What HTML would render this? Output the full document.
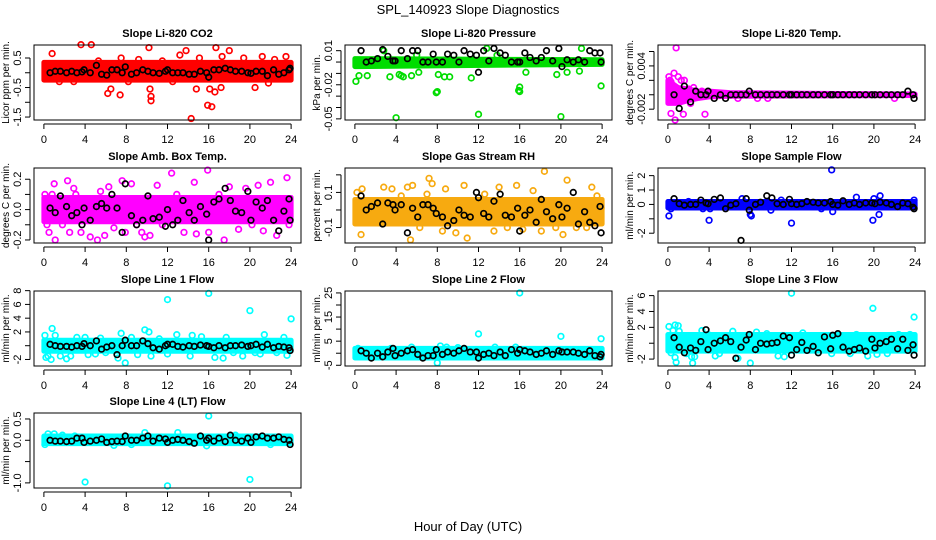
<!DOCTYPE html>
<html><head><meta charset="utf-8"><style>
html,body{margin:0;padding:0;background:#fff;}
svg{display:block;font-family:"Liberation Sans",sans-serif;}
</style></head><body>
<svg id="chart" width="936" height="540" viewBox="0 0 936 540">
<rect width="936" height="540" fill="#fff"/>
<text x="468" y="14" text-anchor="middle" font-size="13">SPL_140923  Slope Diagnostics</text>
<text x="468" y="531" text-anchor="middle" font-size="13">Hour of Day (UTC)</text>
</svg>
<script>
// ---------- shared data ----------
const xTicks = [0,4,8,12,16,20,24];
const blackHours = [0.6,1.1,1.6,2.2,2.7,3.2,3.7,3.9,4.5,5.1,5.6,6.1,6.6,7.1,7.6,7.9,8.5,9.0,9.6,10.1,10.6,11.2,11.8,12.0,12.5,13.0,13.5,14.1,14.6,15.2,15.8,16.0,16.5,17.0,17.6,18.1,18.6,19.2,19.8,20.1,20.6,21.2,21.7,22.3,22.8,23.3,23.8,23.9];

// Panel 1: Li-820 CO2
const p1Ticks = [0.5,0,-0.5,-1,-1.5];
const p1Labels = ["0.5","","-0.5","","-1.5"];
const p1BandHours = [0,24]; const p1BandLo = [-0.25,-0.25]; const p1BandHi = [0.35,0.35];
const p1Hours = [0.8,3.6,4.6,5.3,6.2,6.5,7.4,7.5,9.2,10.2,10.3,10.4,10.4,11.5,13.2,13.8,14.3,14.8,15.1,15.9,16.3,16.1,16.7,16.6,17.2,17.3,18.0,19.4,20.5,21.2,22.4,23.5,1.5,2.9,8.2,12.5,21.8,23.6];
const p1Values = [0.65,0.95,0.95,0.4,-0.7,-0.55,-0.75,0.5,0.45,0.85,-0.55,-0.95,-0.8,0.4,0.6,0.75,-1.55,-0.55,0.5,-1.1,-1.15,-0.55,0.85,-0.65,-0.5,0.55,0.75,0.5,-0.5,0.55,0.45,0.55,-0.3,-0.3,-0.3,-0.3,-0.35,-0.2];
const p1Black = [0,0.05,0.05,0,0.05,0,0.03,0.1,0,0.25,-0.05,-0.08,0.1,0.1,0,0.2,-0.05,0,0.1,0.05,0,-0.02,0.05,0.1,0,0,0,-0.05,-0.05,0.05,0,-0.15,0.1,0.1,0.15,0.1,0.05,0.05,0,-0.02,0.05,0.05,-0.1,0.1,-0.05,0,0.1,0.15];

// Panel 2: Li-820 Pressure
const p2Ticks = [0.01,0,-0.01,-0.02,-0.03,-0.04,-0.05];
const p2Labels = ["0.01","","","-0.02","","","-0.05"];
const p2BandHours = [0,24]; const p2BandLo = [-0.004,-0.002]; const p2BandHi = [0.003,0.002];
const p2Hours = [0.1,0.4,1.2,3.4,4.3,4.5,4.7,5.5,6.2,7.9,8.0,8.1,8.7,9.2,4.0,12.0,20.0,16.0,15.9,16.0,23.9,11.3,16.6,19.6,20.6,21.8,12.8,22.0,2.8,6.0,13.8];
const p2Values = [-0.017,-0.012,-0.012,-0.013,-0.011,-0.012,-0.013,-0.012,-0.009,-0.027,-0.026,-0.011,-0.013,-0.013,-0.049,-0.046,-0.048,-0.022,-0.025,-0.026,-0.021,-0.014,-0.009,-0.011,-0.009,-0.008,0.012,0.012,0.01,0.006,0.006];
const p2Black = [0.01,0,0.001,0.003,0.011,0.005,0.001,0.001,0.01,0.003,0.01,0.01,0,0,0.007,0,0,0.007,0.006,0,0.01,0.007,0.006,-0.009,0.01,0.001,0.012,0.008,0.006,0,0,0,0.008,0.004,0.001,0.004,0.01,0.001,0.012,-0.004,0.002,0,0.002,0,0.01,0.008,0.008,0];

// Panel 3: Li-820 Temp.
const p3Ticks = [0.006,0.004,0.002,0,-0.002];
const p3Labels = ["","0.004","","","-0.002"];
const p3BandHours = [0,1,2,3,4,6,24]; const p3BandLo = [-0.0012,-0.0012,-0.0008,-0.0005,-0.0003,-0.0002,-0.0001]; const p3BandHi = [0.002,0.001,0.0008,0.0005,0.0005,0.0003,0.0001];
const p3Hours = [0.1,0.2,0.3,0.3,0.6,0.8,0.7,1.0,1.3,1.6,1.5,2.0,2.2,3.6,3.3,6.8,9.7,8.7,22,2.5];
const p3Values = [0.0025,0.002,0.0018,-0.0026,0.003,0.0065,-0.0035,0.0025,0.002,0.002,-0.0027,0.0008,-0.0012,-0.0027,0.0005,-0.0005,-0.0005,-0.0005,-0.0005,0.001];
const p3Black = [0,-0.0019,0.0012,-0.001,0.0005,0,0,0.0005,-0.0005,0,-0.0005,0,0,0,0,0.0005,0,0,0,0,0,0,0,0,0,0,0,0,0,0,0,0,0,0,0,0,0,0,0,0,0,0,0,0,0,0.0005,0,-0.0005];

// Panel 4: Amb. Box Temp.
const p4Ticks = [0.2,0.1,0,-0.1,-0.2];
const p4Labels = ["0.2","","0.0","","-0.2"];
const p4BandHours = [0,24]; const p4BandLo = [-0.08,-0.08]; const p4BandHi = [0.08,0.08];
const p4Hours = [0.1,0.3,0.5,0.8,1.0,1.1,2.3,2.5,2.9,3.6,4.5,5.2,5.9,6.3,6.8,7.6,7.9,8.5,9.5,9.8,10.3,11.0,12.4,13.6,14.6,14.8,15.9,16.0,17.5,18.0,18.9,19.6,20.8,21.3,22.0,22.6,23.6,23.8,3.1,12.9,17.0,5.5,9.0,20.2,1.8,11.5];
const p4Values = [0.1,-0.1,-0.15,0.1,0.17,-0.2,0.19,-0.15,0.14,-0.15,-0.18,-0.2,-0.17,0.15,-0.12,0.19,-0.15,0.17,-0.15,-0.18,-0.17,0.16,0.24,-0.15,0.18,-0.16,0.26,-0.15,-0.2,0.15,-0.13,0.14,0.16,-0.14,0.18,-0.17,0.21,-0.1,0.1,0.1,0.1,0.12,-0.1,-0.1,-0.1,-0.1];
const p4Black = [0.01,-0.02,0.09,0.02,-0.04,-0.02,-0.1,0.01,-0.07,0.02,0.04,0.01,0.1,0.01,-0.15,0.17,-0.04,-0.1,-0.07,0.09,-0.06,-0.05,-0.11,0,-0.1,-0.07,0.06,-0.02,-0.07,0.02,-0.03,-0.2,0.05,0.07,0.14,0.06,-0.01,-0.02,0.12,-0.07,0.05,0.01,0.06,-0.07,-0.14,-0.01,0.07,-0.07];

// Panel 5: Gas Stream RH
const p5Ticks = [0.2,0.1,0,-0.1];
const p5Labels = ["","0.1","","-0.1"];
const p5BandHours = [0,24]; const p5BandLo = [-0.08,-0.08]; const p5BandHi = [0.06,0.06];
const p5Hours = [0.2,0.7,0.6,1.3,2.8,3.1,3.6,4.5,5.1,5.4,5.6,6.3,7.0,7.2,7.5,8.5,8.8,9.8,10.6,10.9,11.5,12.6,13.5,14.0,14.8,15.7,16.3,17.3,18.4,18.1,19.5,20.2,20.6,21.5,22.5,23.0,23.5,23.9];
const p5Values = [0.1,0.12,-0.14,-0.06,0.13,-0.04,0.12,0.08,0.13,-0.17,0.14,-0.1,0.09,0.18,0.15,-0.12,0.12,-0.13,0.14,-0.16,-0.05,0.09,-0.12,0.13,-0.1,0.14,-0.11,0.11,0.22,-0.12,-0.1,-0.14,0.17,-0.1,-0.1,0.13,0.08,0.01];
const p5Black = [0.08,0,0.02,0.04,-0.08,0.04,0.03,0,0.03,-0.13,0.01,-0.04,0.03,0.03,0.01,-0.02,-0.04,-0.09,-0.06,0,-0.03,-0.04,0.1,0.07,-0.02,-0.04,0.05,0.09,-0.03,-0.04,0.01,-0.12,-0.03,0,-0.07,0.06,-0.01,-0.05,0.03,-0.04,0.01,0.1,-0.08,-0.01,-0.07,-0.09,0.02,-0.13];

// Panel 6: Sample Flow
const p6Ticks = [2,1,0,-1,-2];
const p6Labels = ["2","1","0","","-2"];
const p6BandHours = [0,24]; const p6BandLo = [-0.25,-0.25]; const p6BandHi = [0.2,0.2];
const p6Hours = [0.1,0.3,3.4,4.0,4.1,7.2,8.0,8.1,10.0,12.0,15.9,16.0,18.3,19.9,20.0,20.6,20.5,23.9,14.9,2.0,11.0];
const p6Values = [-0.8,-0.3,-0.3,-1.1,-0.3,0.4,-0.7,-0.8,-0.4,-1.3,2.4,-0.5,0.5,-1.1,0.4,0.6,-0.7,0.3,-0.3,0.2,0.3];
const p6Black = [0.4,0.05,-0.05,0,0,0.3,0.1,0.05,0.35,0.45,-0.3,-0.05,0.05,-2.5,0.4,-0.4,0,0.15,0.6,0.45,0.05,0,0.35,0.05,0,0.05,0.2,0.15,0.1,0.1,0.2,0,-0.05,0.25,0,0.1,0,0.1,0.1,0.05,0.15,0.1,0,-0.15,0.1,0.05,-0.2,-0.3];

// Panel 7: Line 1 Flow
const p7Ticks = [8,6,4,2,0,-2];
const p7Labels = ["8","6","4","2","","-2"];
const p7BandHours = [0,24]; const p7BandLo = [-0.8,-0.8]; const p7BandHi = [0.8,0.8];
const p7Hours = [0.1,0.2,0.4,0.8,0.7,1.1,1.6,2.2,2.6,3.2,4.0,4.3,5.5,6.0,7.2,7.5,7.9,8.5,9.1,9.8,10.2,10.4,12.0,12.0,12.9,14.2,14.4,16.0,16.6,17.4,17.7,19.3,20.0,20.5,21.4,22.6,23.3,23.6,24.0,15.3,5.0,11.2,18.4,21.0];
const p7Values = [1.5,-1.7,-1.5,2.5,-2,1.5,-1.5,-1.9,-1.5,1.2,1.2,-1.3,1.1,-1.0,-1.8,1.8,-2.5,1.2,-1.3,2.3,2.0,-1.5,6.7,-1.2,1.6,-1.5,1.5,7.6,-1.7,-1.8,1.2,-1.5,5.1,-1,1.6,-1,1.2,-1.4,3.9,1.3,-1.2,1.0,-1.0,-1.2];
const p7Black = [0.2,0,-0.1,-0.1,-0.2,0,-0.1,0.3,0,0.7,-0.5,-0.2,0,-1.3,0,0.8,0,0,0.7,0.3,-0.3,-0.5,0,0.2,0.2,-0.1,-0.2,0,-0.1,0.1,0,-0.1,-0.3,0,-0.3,0,0,0.1,-0.1,0,0.2,-0.2,0.2,-0.3,-0.1,-0.2,-0.3,-0.7];

// Panel 8: Line 2 Flow
const p8Ticks = [25,20,15,10,5,0,-5];
const p8Labels = ["25","","15","","5","","-5"];
const p8BandHours = [0,24]; const p8BandLo = [-2,-2]; const p8BandHi = [2,2];
const p8Hours = [0.2,0.3,2.5,3.5,5.5,8.0,8.3,8.9,11.4,12.0,13.6,15.6,16.0,17.5,20.0,21.5,23.9,23.5,10.0,6.6];
const p8Values = [-1.5,2,-1.5,2,2.5,-4,3,2.5,-1.5,8,2.5,2.5,25,-1.5,7,-1,6,-1.5,2.3,-1.5];
const p8Black = [1,0,-2,0,-1.5,0.5,2,-1,0,1,1.5,-0.5,-2,-1,-1,1.5,-0.5,0.5,0,1,2,0.5,0.5,-2,-0.5,0,-1,0.5,-1,1.5,0,1.5,1,0.5,-0.5,0,1,-0.5,1,0.5,0.5,0.5,0,-0.5,1,-1,-1.5,-0.5];

// Panel 9: Line 3 Flow
const p9Ticks = [6,4,2,0,-2];
const p9Labels = ["6","4","2","","-2"];
const p9BandHours = [0,24]; const p9BandLo = [-1.0,-1.0]; const p9BandHi = [1.1,1.1];
const p9Hours = [0.1,0.3,0.5,0.7,0.7,0.8,1.0,1.1,1.8,2.3,2.4,2.6,3.3,3.9,4.6,6.3,6.8,8.0,8.6,10.7,11.3,12.0,13.1,15.9,17.7,19.4,19.9,20.3,21.3,22.4,23.5,23.9,14.6,5.0,9.6,18.3];
const p9Values = [2.1,-1.2,1.6,2.3,-1.8,-2.4,2.2,1.5,-1.3,-1.7,-2.5,-1.7,1.6,1.1,-1.6,1.5,-1.9,-2.5,1.4,-1.6,-1.7,6.3,1.3,-1.3,-1.3,-1.6,4.4,-1.4,-1.3,1.1,1.1,3.3,-1.2,-1.3,1.2,1.1];
const p9Black = [0.7,-0.5,-1.2,-0.6,-0.9,0.2,1.7,-0.8,0,0.3,0.7,0.2,-1.9,-0.5,0.4,1.1,-0.8,0,-0.1,0,0.1,0.9,0.7,-1.5,-0.8,0.1,-0.9,-0.4,-1.2,0.8,-0.7,1,1.2,-0.5,-1,-0.8,-0.6,-1,0.5,-0.6,0,0.2,0.5,-0.7,0.5,-0.9,-0.2,-1.5];

// Panel 10: Line 4 (LT) Flow
const p10Ticks = [0.5,0,-0.5,-1];
const p10Labels = ["0.5","0.0","","-1.0"];
const p10BandHours = [0,24]; const p10BandLo = [-0.08,-0.08]; const p10BandHi = [0.1,0.1];
const p10Hours = [0.1,0.4,1.0,1.8,4.0,6.8,9.8,12.0,13.0,15.8,16.0,20.0,8.5,22,3.0,18.6];
const p10Values = [-0.1,0.15,0.15,0.12,-0.98,-0.12,0.18,-1.07,0.18,-0.13,0.57,-0.92,-0.1,-0.1,0.1,0.12];
const p10Black = [0,-0.02,-0.02,-0.03,-0.02,0.05,0.05,-0.05,-0.02,0,0.03,-0.05,-0.03,-0.02,-0.03,0.1,0,0,0.05,0.1,-0.02,0.05,0.03,-0.05,0,0.02,0,-0.03,-0.07,0.1,0,0.05,-0.02,0.05,-0.03,0.12,0,-0.02,0.05,-0.05,0.08,0.1,0.05,0.05,0.08,0.02,0,-0.1];

// ---------- layout (not data) ----------
const colLeft = [34,345,658];
const rowTop = [45,168,291,413];
const W = 267, H = 75;
const panels = [
 {name:"co2",title:"Slope Li-820 CO2",ylab:"Licor ppm per min.",col:"#ff0000",r:0,c:0,dom:[-1.6,0.94],ticks:p1Ticks,labels:p1Labels,bh:p1BandHours,bl:p1BandLo,bu:p1BandHi,hx:p1Hours,hy:p1Values,blk:p1Black},
 {name:"pressure",title:"Slope Li-820 Pressure",ylab:"kPa per min.",col:"#00dd00",r:0,c:1,dom:[-0.051,0.015],ticks:p2Ticks,labels:p2Labels,bh:p2BandHours,bl:p2BandLo,bu:p2BandHi,hx:p2Hours,hy:p2Values,blk:p2Black},
 {name:"temp",title:"Slope Li-820 Temp.",ylab:"degrees C per min.",col:"#ff00ff",r:0,c:2,dom:[-0.0035,0.0069],ticks:p3Ticks,labels:p3Labels,bh:p3BandHours,bl:p3BandLo,bu:p3BandHi,hx:p3Hours,hy:p3Values,blk:p3Black},
 {name:"amb-box-temp",title:"Slope Amb. Box Temp.",ylab:"degrees C per min.",col:"#ff00ff",r:1,c:0,dom:[-0.22,0.274],ticks:p4Ticks,labels:p4Labels,bh:p4BandHours,bl:p4BandLo,bu:p4BandHi,hx:p4Hours,hy:p4Values,blk:p4Black},
 {name:"gas-stream-rh",title:"Slope Gas Stream RH",ylab:"percent per min.",col:"#f7aa10",r:1,c:1,dom:[-0.188,0.239],ticks:p5Ticks,labels:p5Labels,bh:p5BandHours,bl:p5BandLo,bu:p5BandHi,hx:p5Hours,hy:p5Values,blk:p5Black},
 {name:"sample-flow",title:"Slope Sample Flow",ylab:"ml/min per min.",col:"#0000ff",r:1,c:2,dom:[-2.68,2.53],ticks:p6Ticks,labels:p6Labels,bh:p6BandHours,bl:p6BandLo,bu:p6BandHi,hx:p6Hours,hy:p6Values,blk:p6Black},
 {name:"line1-flow",title:"Slope Line 1 Flow",ylab:"ml/min per min.",col:"#00ffff",r:2,c:0,dom:[-2.95,7.95],ticks:p7Ticks,labels:p7Labels,bh:p7BandHours,bl:p7BandLo,bu:p7BandHi,hx:p7Hours,hy:p7Values,blk:p7Black},
 {name:"line2-flow",title:"Slope Line 2 Flow",ylab:"ml/min per min.",col:"#00ffff",r:2,c:1,dom:[-5.3,25.8],ticks:p8Ticks,labels:p8Labels,bh:p8BandHours,bl:p8BandLo,bu:p8BandHi,hx:p8Hours,hy:p8Values,blk:p8Black},
 {name:"line3-flow",title:"Slope Line 3 Flow",ylab:"ml/min per min.",col:"#00ffff",r:2,c:2,dom:[-2.87,6.58],ticks:p9Ticks,labels:p9Labels,bh:p9BandHours,bl:p9BandLo,bu:p9BandHi,hx:p9Hours,hy:p9Values,blk:p9Black},
 {name:"line4-flow",title:"Slope Line 4 (LT) Flow",ylab:"ml/min per min.",col:"#00ffff",r:3,c:0,dom:[-1.12,0.64],ticks:p10Ticks,labels:p10Labels,bh:p10BandHours,bl:p10BandLo,bu:p10BandHi,hx:p10Hours,hy:p10Values,blk:p10Black}
];
const NS = "http://www.w3.org/2000/svg";
const svg = document.getElementById("chart");
function mk(tag, attrs, parent){ const e=document.createElementNS(NS,tag); for(const k in attrs) e.setAttribute(k,attrs[k]); (parent||svg).appendChild(e); return e; }

panels.forEach(p=>{
  const L = colLeft[p.c], T = rowTop[p.r];
  const xs = h => L + (h + 0.96) / 25.92 * W;
  const ys = v => T + H - (v - p.dom[0]) / (p.dom[1] - p.dom[0]) * H;
  const g = mk("g",{});
  
  
  const clip = mk("clipPath",{id:"clip-"+p.name}, g);
  mk("rect",{x:L-4,y:T-4,width:W+8,height:H+8}, clip);
  const pg = mk("g",{"clip-path":"url(#clip-"+p.name+")"}, g);
  
  
  let pts = p.bh.map((h,i)=>xs(h)+","+ys(p.bu[i]));
  pts = pts.concat(p.bh.slice().reverse().map((h,j)=>{const i=p.bh.length-1-j; return xs(h)+","+ys(p.bl[i]);}));
  const band = mk("polygon",{points:pts.join(" "),fill:p.col,stroke:p.col,"stroke-width":5,"stroke-linejoin":"round"}, pg);
  
  
  p.hx.forEach((h,i)=>{
    const c = mk("circle",{cx:xs(h),cy:ys(p.hy[i]),r:2.8,fill:"none",stroke:p.col,"stroke-width":1.7}, pg);
    
    
  });
  const n = Math.min(blackHours.length, p.blk.length);
  for(let i=0;i<n;i++){
    const c = mk("circle",{cx:xs(blackHours[i]),cy:ys(p.blk[i]),r:2.8,fill:"none",stroke:"#000","stroke-width":1.7}, pg);
    
    
  }
  const box = mk("rect",{x:L,y:T,width:W,height:H,fill:"none",stroke:"#000","stroke-width":1}, g);
  
  
  const t = mk("text",{x:L+W/2,y:T-8,"text-anchor":"middle","font-size":11,"font-weight":"bold"}, g);
  t.textContent = p.title;
  
  
  const xa = mk("g",{}, g);
  
  
  mk("line",{x1:xs(xTicks[0]),x2:xs(xTicks[xTicks.length-1]),y1:T+H+4,y2:T+H+4,stroke:"#000"}, xa);
  xTicks.forEach(v=>{
    mk("line",{x1:xs(v),x2:xs(v),y1:T+H+4,y2:T+H+9,stroke:"#000"}, xa);
    const tl = mk("text",{x:xs(v),y:T+H+23,"text-anchor":"middle","font-size":11}, xa);
    tl.textContent = v;
    
    
  });
  const ya = mk("g",{}, g);
  
  
  const yt = p.ticks;
  mk("line",{x1:L-4,x2:L-4,y1:ys(yt[0]),y2:ys(yt[yt.length-1]),stroke:"#000"}, ya);
  yt.forEach((v,i)=>{
    mk("line",{x1:L-4,x2:L-9,y1:ys(v),y2:ys(v),stroke:"#000"}, ya);
    if(p.labels[i]){
      const yl = mk("text",{x:L-13,y:ys(v),"text-anchor":"middle","font-size":11,transform:"rotate(-90 "+(L-13)+" "+ys(v)+")"}, ya);
      yl.textContent = p.labels[i];
      
      
    }
  });
  const yl = mk("text",{x:L-25,y:T+H/2,"text-anchor":"middle","font-size":10,transform:"rotate(-90 "+(L-25)+" "+(T+H/2)+")"}, g);
  yl.textContent = p.ylab;
  
  
});
</script>
</body></html>
